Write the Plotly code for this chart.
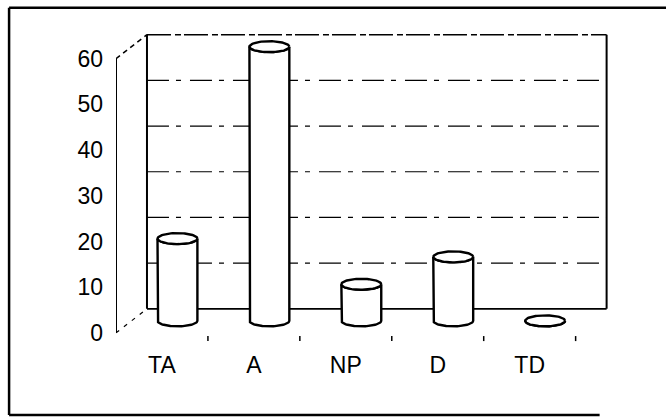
import numpy as np
import plotly.graph_objects as go

# Response shares per category (percent)
categories = ["TA", "A", "NP", "D", "TD"]
values = [18, 60, 8, 14, 0]
y_ticks = [0, 10, 20, 30, 40, 50, 60]

W, H = 666, 418
FONT = "Liberation Sans, Arial, sans-serif"

# Pseudo-3D geometry (in axis units)
DX, DY = 0.337, 5.26          # depth offset of the back wall
CYL_A, CYL_B = 0.217, 1.2     # cylinder ellipse semi-axes
Y_MAX = 60

# Axis ranges and pixel placement of the plot area
X_RANGE = [0, 5.45]
Y_RANGE = [-2, 66.5]
M_L, M_T = 116, 29.3
PX_X = 92.0
PX_Y = 4.567
plot_w = (X_RANGE[1] - X_RANGE[0]) * PX_X
plot_h = (Y_RANGE[1] - Y_RANGE[0]) * PX_Y
M_R = W - M_L - plot_w
M_B = H - M_T - plot_h

fig = go.Figure()


def seg(xs, ys, width=1.5, dash="solid", color="black"):
    fig.add_trace(go.Scatter(x=xs, y=ys, mode="lines",
                             line=dict(color=color, width=width, dash=dash),
                             hoverinfo="skip", showlegend=False))


n = len(categories)

# Back wall gridlines
for t in y_ticks[1:-1]:
    seg([DX, n + DX], [t + DY, t + DY], width=1.2, dash="22px,7px,5px,9px")
# Back wall frame
seg([DX, n + DX], [Y_MAX + DY, Y_MAX + DY], width=1.5, dash="24px,4px,6px,3px")
seg([DX, DX], [DY, Y_MAX + DY], width=2)
seg([n + DX, n + DX], [DY, Y_MAX + DY], width=2)
seg([DX, n + DX], [DY, DY], width=1.6)
# Left side edges
seg([0, DX], [Y_MAX, Y_MAX + DY], width=1.5, dash="5px,4px")
seg([0, DX], [0, DY], width=1.2, dash="4px,6px")
# Front value axis
seg([0, 0], [0, Y_MAX], width=2)
# Category boundary ticks on the front floor edge
for k in range(1, n + 1):
    seg([k, k], [-0.7, -1.8], width=1.5)

# Cylinders
yb = DY / 2
for i, v in enumerate(values):
    xc = i + 0.5 + DX / 2
    yt = yb + v
    t_low = np.linspace(np.pi, 2 * np.pi, 40)
    t_back = np.linspace(2 * np.pi, np.pi, 40)
    bx = np.concatenate([[xc - CYL_A], xc + CYL_A * np.cos(t_low), [xc + CYL_A],
                         xc + CYL_A * np.cos(t_back)])
    by = np.concatenate([[yt], yb + CYL_B * np.sin(t_low), [yt],
                         yt + CYL_B * np.sin(t_back)])
    bx = np.append(bx, bx[0])
    by = np.append(by, by[0])
    fig.add_trace(go.Scatter(x=bx, y=by, mode="lines", fill="toself",
                             fillcolor="white", line=dict(color="black", width=2.4),
                             hoverinfo="skip", showlegend=False))
    tt = np.linspace(0, 2 * np.pi, 80)
    fig.add_trace(go.Scatter(x=xc + CYL_A * np.cos(tt), y=yt + CYL_B * np.sin(tt),
                             mode="lines", fill="toself", fillcolor="white",
                             line=dict(color="black", width=2.4),
                             hoverinfo="skip", showlegend=False))


# Outer chart border: left, top and (shorter) bottom edges
def px_to_paper_x(px):
    return (px - M_L) / plot_w


def px_to_paper_y(py):
    return (H - M_B - py) / plot_h


bx0, bx_top, bx_bot = px_to_paper_x(9), px_to_paper_x(W + 10), px_to_paper_x(600)
by_top, by_bot = px_to_paper_y(8), px_to_paper_y(415)
fig.add_shape(type="line", xref="paper", yref="paper", x0=bx0, x1=bx0,
              y0=by_bot, y1=by_top, line=dict(color="black", width=2.5))
fig.add_shape(type="line", xref="paper", yref="paper", x0=bx0, x1=bx_top,
              y0=by_top, y1=by_top, line=dict(color="black", width=2.5))
fig.add_shape(type="line", xref="paper", yref="paper", x0=bx0, x1=bx_bot,
              y0=by_bot, y1=by_bot, line=dict(color="black", width=2.5))

fig.update_layout(
    width=W, height=H,
    margin=dict(l=M_L, r=M_R, t=M_T, b=M_B, pad=0),
    paper_bgcolor="white", plot_bgcolor="white",
    font=dict(family=FONT, size=23, color="black"),
    showlegend=False,
    xaxis=dict(range=X_RANGE, showgrid=False, zeroline=False, showline=False,
               tickmode="array", tickvals=[i + 0.5 for i in range(n)],
               ticktext=categories, ticks="", ticklabelstandoff=7,
               tickfont=dict(family=FONT, size=23)),
    yaxis=dict(range=Y_RANGE, showgrid=False, zeroline=False, showline=False,
               tickmode="array", tickvals=y_ticks,
               ticktext=[str(t) for t in y_ticks], ticks="", ticklabelstandoff=12,
               tickfont=dict(family=FONT, size=23)),
)

fig.write_html("out.html")
